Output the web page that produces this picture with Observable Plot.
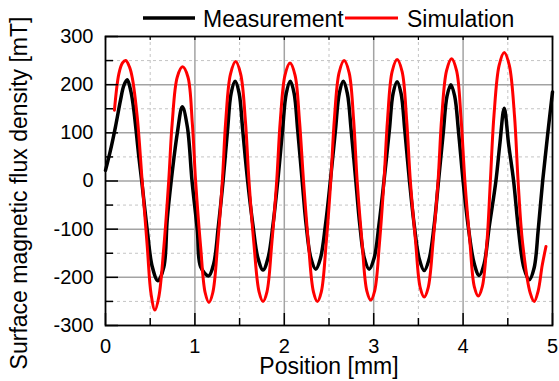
<!DOCTYPE html>
<html><head><meta charset="utf-8">
<script src="https://cdn.jsdelivr.net/npm/d3@7"></script>
<script src="https://cdn.jsdelivr.net/npm/@observablehq/plot@0.6"></script>
<style>body{margin:0;background:#fff}</style>
</head><body><div id="chart"></div>
<script>
// Measurement (black)
const measX = [0.00,0.056,0.112,0.168,0.205,0.243,0.285,0.317,0.373,0.405,0.467,0.523,0.586,0.653,0.69,0.735,0.803,0.859,0.915,0.968,1.027,1.064,1.153,1.21,1.26,1.315,1.365,1.405,1.45,1.495,1.535,1.59,1.65,1.705,1.762,1.818,1.872,1.927,1.98,2.022,2.067,2.11,2.15,2.2,2.245,2.297,2.352,2.405,2.46,2.515,2.572,2.615,2.66,2.705,2.748,2.8,2.845,2.895,2.949,3.005,3.058,3.115,3.175,3.217,3.262,3.306,3.348,3.4,3.455,3.51,3.565,3.62,3.675,3.725,3.778,3.82,3.863,3.906,3.95,4.0,4.06,4.125,4.18,4.235,4.29,4.367,4.41,4.46,4.51,4.565,4.62,4.68,4.74,4.795,4.84,4.89,4.945,5.0];
const measY = [22,64,113,168,198,210,185,147,50,0,-102,-178,-207,-178,-81,0,99,154,113,0,-102,-178,-197,-172,-98,0,105,182,207,182,105,0,-93,-160,-185,-160,-93,0,105,182,207,182,105,0,-92,-160,-183,-160,-92,0,105,182,207,182,105,0,-92,-160,-183,-160,-92,0,105,182,206,182,105,0,-94,-162,-186,-162,-94,0,100,176,200,176,100,0,-98,-172,-196,-172,-98,0,75,151,75,0,-102,-180,-205,-180,-102,0,95,185];
// Simulation (red)
const simX = [0.10,0.15,0.19,0.226,0.27,0.30,0.355,0.41,0.467,0.51,0.553,0.597,0.653,0.707,0.746,0.803,0.862,0.922,0.971,1.008,1.064,1.115,1.157,1.20,1.255,1.307,1.345,1.398,1.456,1.512,1.565,1.605,1.66,1.718,1.762,1.806,1.86,1.915,1.955,2.008,2.064,2.12,2.17,2.215,2.27,2.326,2.37,2.414,2.468,2.52,2.56,2.613,2.669,2.725,2.775,2.815,2.87,2.923,2.967,3.011,3.065,3.115,3.155,3.206,3.262,3.318,3.368,3.41,3.468,3.521,3.565,3.609,3.665,3.72,3.76,3.815,3.871,3.927,3.977,4.02,4.075,4.126,4.17,4.214,4.268,4.305,4.345,4.403,4.46,4.517,4.575,4.615,4.665,4.75,4.796,4.84,4.885,4.927];
const simY = [147,223,245,250,236,214,133,0,-136,-235,-268,-240,-136,0,120,216,237,216,120,0,-136,-232,-252,-232,-130,0,125,222,248,222,125,0,-130,-230,-250,-230,-130,0,125,220,245,220,125,0,-130,-230,-250,-230,-130,0,128,225,250,225,128,0,-128,-228,-247,-228,-128,0,128,227,252,227,128,0,-125,-222,-241,-222,-125,0,130,229,254,229,130,0,-124,-220,-239,-220,-124,0,135,240,267,240,135,0,-128,-232,-250,-228,-175,-136];

const seriesNames = ["Measurement", "Simulation"];
const seriesColors = ["#000000", "#ff0000"];
const xTicks = [0,1,2,3,4,5];
const yTicks = [-300,-200,-100,0,100,200,300];
const xMajorGrid = [1,2,3,4];
const yMajorGrid = [-200,-100,0,100,200];
const xMinor = [0.5,1.5,2.5,3.5,4.5];
const yMinor = [-250,-150,-50,50,150,250];
const xLabel = "Position [mm]";
const yLabel = "Surface magnetic flux density [mT]";

const meas = measX.map((x, i) => ({x, y: measY[i]}));
const sim = simX.map((x, i) => ({x, y: simY[i]}));

const W = 559, H = 381, mL = 105, mR = 7, mT = 36, mB = 56;
const fw = W - mL - mR, fh = H - mT - mB;
const FONT = "'Liberation Sans', Arial, sans-serif";

const plot = Plot.plot({
  width: W, height: H,
  marginLeft: mL, marginRight: mR, marginTop: mT, marginBottom: mB,
  style: {fontFamily: FONT, fontSize: "20px", background: "#fff", color: "#000"},
  x: {domain: [0, 5]},
  y: {domain: [-300, 300]},
  marks: [
    Plot.ruleX(xMinor, {stroke: "#c4c4c4", strokeWidth: 1, strokeDasharray: "3,3"}),
    Plot.ruleY(yMinor, {stroke: "#c4c4c4", strokeWidth: 1, strokeDasharray: "3,3"}),
    Plot.ruleX(xMajorGrid, {stroke: "#a3a3a3", strokeWidth: 1.5}),
    Plot.ruleY(yMajorGrid, {stroke: "#a3a3a3", strokeWidth: 1.5}),
    Plot.line(meas, {x: "x", y: "y", stroke: seriesColors[0], strokeWidth: 3.5, curve: "catmull-rom"}),
    Plot.line(sim, {x: "x", y: "y", stroke: seriesColors[1], strokeWidth: 3, curve: "catmull-rom"}),
    Plot.tickX(xTicks, {x: d => d, insetTop: fh - 12, stroke: "#000", strokeWidth: 1.5}),
    Plot.tickX(xMinor, {x: d => d, insetTop: fh - 7, stroke: "#000", strokeWidth: 1.5}),
    Plot.tickX(xTicks.concat(xMinor), {x: d => d, insetBottom: fh - 4, stroke: "#000", strokeWidth: 1.2}),
    Plot.tickY(yTicks, {y: d => d, insetRight: fw - 13, stroke: "#000", strokeWidth: 1.5}),
    Plot.tickY(yMinor, {y: d => d, insetRight: fw - 8, stroke: "#000", strokeWidth: 1.5}),
    Plot.frame({stroke: "#000", strokeWidth: 1.8}),
    Plot.axisX({ticks: xTicks, tickSize: 0, tickPadding: 13, label: null, tickFormat: d => String(d), fontSize: 20}),
    Plot.axisY({ticks: yTicks, tickSize: 0, tickPadding: 12, label: null, tickFormat: d => String(d), fontSize: 20})
  ]
});

const svg = d3.select(plot);
// axis titles
svg.append("text").attr("x", 329).attr("y", 373.5)
  .style("font-size", "23px").style("font-family", FONT).style("text-anchor", "middle")
  .attr("fill", "#000").text(xLabel);
svg.append("text").attr("transform", "translate(27,193) rotate(-90)")
  .style("font-size", "23px").style("font-family", FONT).style("text-anchor", "middle")
  .attr("fill", "#000").text(yLabel);

// legend
const leg = svg.append("g").attr("class", "legend");
const legItems = [
  {x1: 143, x2: 195, tx: 203},
  {x1: 345, x2: 398, tx: 407}
];
legItems.forEach((it, i) => {
  leg.append("line").attr("x1", it.x1).attr("x2", it.x2).attr("y1", 18).attr("y2", 18)
    .attr("stroke", seriesColors[i]).attr("stroke-width", i === 0 ? 3.5 : 3);
  leg.append("text").attr("x", it.tx).attr("y", 26.5)
    .style("font-size", "23px").style("font-family", FONT).style("text-anchor", "start")
    .attr("fill", "#000").text(seriesNames[i]);
});

document.getElementById("chart").appendChild(plot);
</script>
</body></html>
